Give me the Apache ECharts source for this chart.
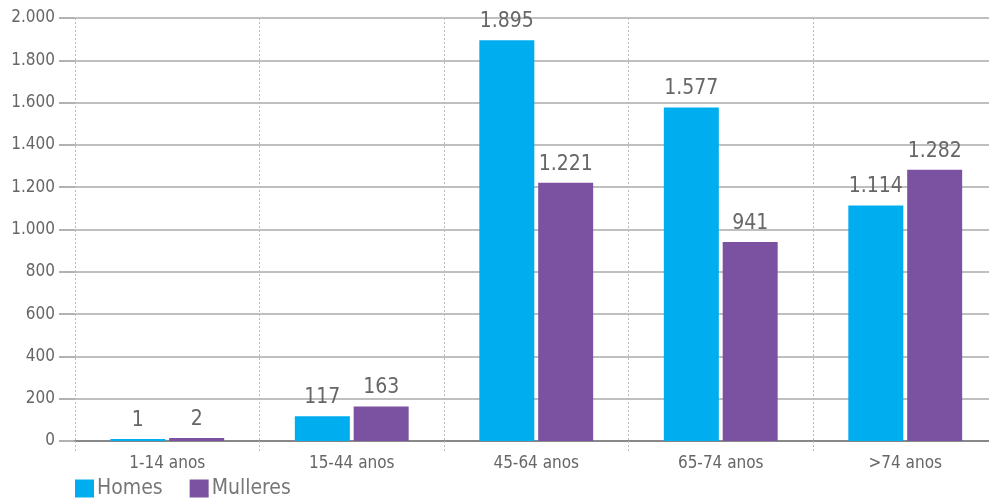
<!DOCTYPE html>
<html><head><meta charset="utf-8">
<script src="https://cdn.jsdelivr.net/npm/echarts@6/dist/echarts.min.js"></script>
<style>html,body{margin:0;padding:0;background:#fff}#c{width:989px;height:502px}</style>
</head><body><div id="c"></div>
<script>
const categories = ['1-14 anos', '15-44 anos', '45-64 anos', '65-74 anos', '>74 anos'];
const homes = [1, 117, 1895, 1577, 1114];
const mulleres = [2, 163, 1221, 941, 1282];
const seriesNames = ['Homes', 'Mulleres'];

function fmt(v) {
  return String(v).replace(/\B(?=(\d{3})+(?!\d))/g, '.');
}
const chart = echarts.init(document.getElementById('c'));
const labelStyle = {
  show: true, position: 'top', distance: 8,
  fontFamily: '"DejaVu Sans Condensed"', fontSize: 21, color: '#666',
  formatter: p => fmt(p.value)
};
const tickFont = { fontFamily: '"DejaVu Sans Condensed"', fontSize: 17, color: '#666' };
chart.setOption({
  animation: false,
  grid: { left: 75, width: 922.5, top: 18, bottom: 61, containLabel: false, outerBoundsMode: 'none' },
  legend: {
    left: 75, bottom: 3, padding: 0, itemWidth: 19, itemHeight: 18, itemGap: 27,
    icon: 'rect',
    textStyle: { fontFamily: '"DejaVu Sans Condensed"', fontSize: 21, color: '#777', padding: [0, 0, 0, -2] },
    data: seriesNames
  },
  xAxis: {
    type: 'category', data: categories,
    axisLine: { show: true, lineStyle: { color: '#888', width: 2 } },
    axisTick: { show: true, length: 11, lineStyle: { color: '#bbb', type: [2, 2] } },
    axisLabel: Object.assign({ margin: 14 }, tickFont),
    splitLine: { show: true, lineStyle: { color: '#bbb', type: [2, 2] } }
  },
  yAxis: {
    type: 'value', min: 0, max: 2000, interval: 200,
    axisLine: { show: false },
    axisTick: { show: true, length: 16, inside: false, lineStyle: { color: '#999', width: 1.5 } },
    axisLabel: Object.assign({ margin: 20, formatter: v => fmt(v) }, tickFont),
    splitLine: { show: true, lineStyle: { color: '#aaa', width: 1.5 } }
  },
  series: [
    { name: seriesNames[0], type: 'bar', data: homes, barWidth: 55, barGap: '7%',
      barMinHeight: 2, itemStyle: { color: '#00AEEF' }, label: labelStyle },
    { name: seriesNames[1], type: 'bar', data: mulleres, barWidth: 55,
      barMinHeight: 3, itemStyle: { color: '#7B52A1' }, label: labelStyle }
  ]
});
</script></body></html>
